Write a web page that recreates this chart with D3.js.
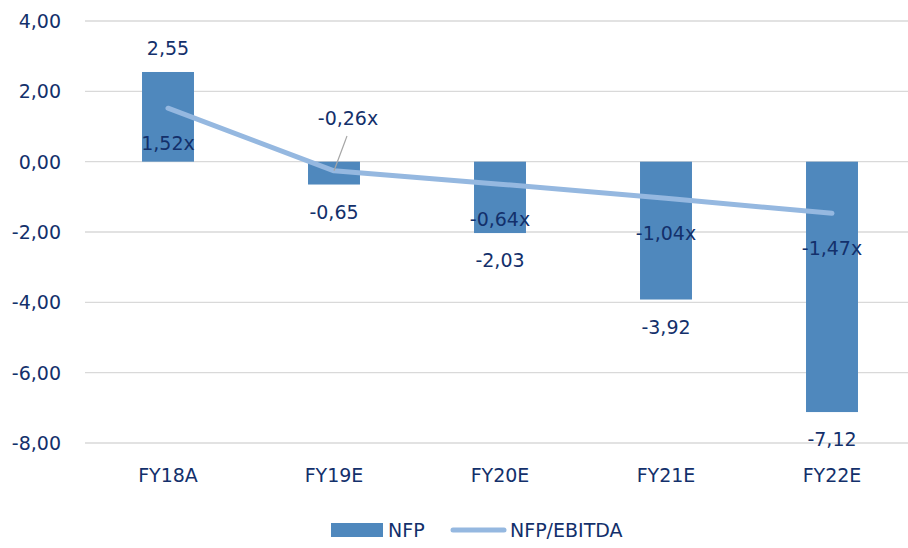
<!DOCTYPE html>
<html>
<head>
<meta charset="utf-8">
<script src="https://cdn.jsdelivr.net/npm/d3@7"></script>
<style>
  body { margin: 0; background: #fff; }
  text { font-family: "DejaVu Sans", sans-serif; fill: #13306b; }
</style>
</head>
<body>
<svg id="chart" width="908" height="548"></svg>
<script>
// chart data
const years = ["FY18A", "FY19E", "FY20E", "FY21E", "FY22E"];
const nfp = [2.55, -0.65, -2.03, -3.92, -7.12];
const nfpEbitda = [1.52, -0.26, -0.64, -1.04, -1.47];
const yTicks = [4, 2, 0, -2, -4, -6, -8];
const seriesNames = ["NFP", "NFP/EBITDA"];

const barCol = '#4f88bd';
const lineCol = '#95b8e0';
const gridCol = '#d9d9d9';

const svg = d3.select('svg#chart');

const x = d3.scaleBand()
  .domain(years)
  .range([85, 915])
  .paddingInner(0.687)
  .paddingOuter(0.3435);

const y = d3.scaleLinear()
  .domain([-8, 4])
  .range([443, 21]);

// comma decimals
const fmt = v => d3.format('.2f')(v).replace('.', ',').replace('−', '-');

// grid
svg.append('g').attr('class', 'grid')
  .selectAll('line')
  .data(yTicks)
  .enter()
  .append('line')
  .attr('x1', 85)
  .attr('x2', 915)
  .attr('y1', d => y(d))
  .attr('y2', d => y(d))
  .style('stroke', gridCol)
  .style('stroke-width', 1.3);

// y axis labels
svg.append('g').attr('class', 'yLabels')
  .selectAll('text')
  .data(yTicks)
  .enter()
  .append('text')
  .attr('x', 61)
  .attr('y', d => y(d))
  .attr('dy', '0.36em')
  .attr('text-anchor', 'end')
  .style('font-size', '19px')
  .text(d => fmt(d));

// x labels
svg.append('g').attr('class', 'xLabels')
  .selectAll('text')
  .data(years)
  .enter()
  .append('text')
  .attr('x', d => x(d) + x.bandwidth() / 2)
  .attr('y', 482)
  .attr('text-anchor', 'middle')
  .style('font-size', '19px')
  .text(d => d);

// bars
svg.append('g').attr('class', 'bars')
  .selectAll('rect')
  .data(nfp)
  .enter()
  .append('rect')
  .attr('x', (d, i) => x(years[i]))
  .attr('width', x.bandwidth())
  .attr('y', d => y(Math.max(0, d)))
  .attr('height', d => Math.abs(y(d) - y(0)))
  .style('fill', barCol);

// line
const cx = i => x(years[i]) + x.bandwidth() / 2;
const line = d3.line()
  .x((d, i) => cx(i))
  .y(d => y(d));

svg.append('path')
  .datum(nfpEbitda)
  .attr('d', line)
  .style('fill', 'none')
  .style('stroke', lineCol)
  .style('stroke-width', 5)
  .style('stroke-linecap', 'round')
  .style('stroke-linejoin', 'round');

// bar labels
svg.append('g').attr('class', 'barLabels')
  .selectAll('text')
  .data(nfp)
  .enter()
  .append('text')
  .attr('x', (d, i) => cx(i))
  .attr('y', d => d >= 0 ? y(d) - 17 : y(d) + 34)
  .attr('text-anchor', 'middle')
  .style('font-size', '19px')
  .text(d => fmt(d));

// ratio labels (FY19E moved up with a leader line)
const lblGrp = svg.append('g').attr('class', 'ratioLabels');
lblGrp.append('line')
  .attr('x1', cx(1) + 13)
  .attr('y1', 136)
  .attr('x2', cx(1))
  .attr('y2', y(nfpEbitda[1]))
  .style('stroke', '#a6a6a6')
  .style('stroke-width', 1.2);

lblGrp.selectAll('text')
  .data(nfpEbitda)
  .enter()
  .append('text')
  .attr('x', (d, i) => i === 1 ? cx(i) + 14 : cx(i))
  .attr('y', (d, i) => i === 1 ? 125 : y(d) + 42)
  .attr('text-anchor', 'middle')
  .style('font-size', '19px')
  .text(d => fmt(d) + 'x');

// legend
const leg = svg.append('g').attr('class', 'legend');
leg.append('rect')
  .attr('x', 331).attr('y', 523)
  .attr('width', 52).attr('height', 14)
  .style('fill', barCol);
leg.append('text')
  .attr('x', 388).attr('y', 530).attr('dy', '0.36em')
  .style('font-size', '19px')
  .text(seriesNames[0]);
leg.append('line')
  .attr('x1', 453).attr('x2', 504)
  .attr('y1', 530).attr('y2', 530)
  .style('stroke', lineCol)
  .style('stroke-width', 5)
  .style('stroke-linecap', 'round');
leg.append('text')
  .attr('x', 510).attr('y', 530).attr('dy', '0.36em')
  .style('font-size', '19px')
  .text(seriesNames[1]);
</script>
</body>
</html>
